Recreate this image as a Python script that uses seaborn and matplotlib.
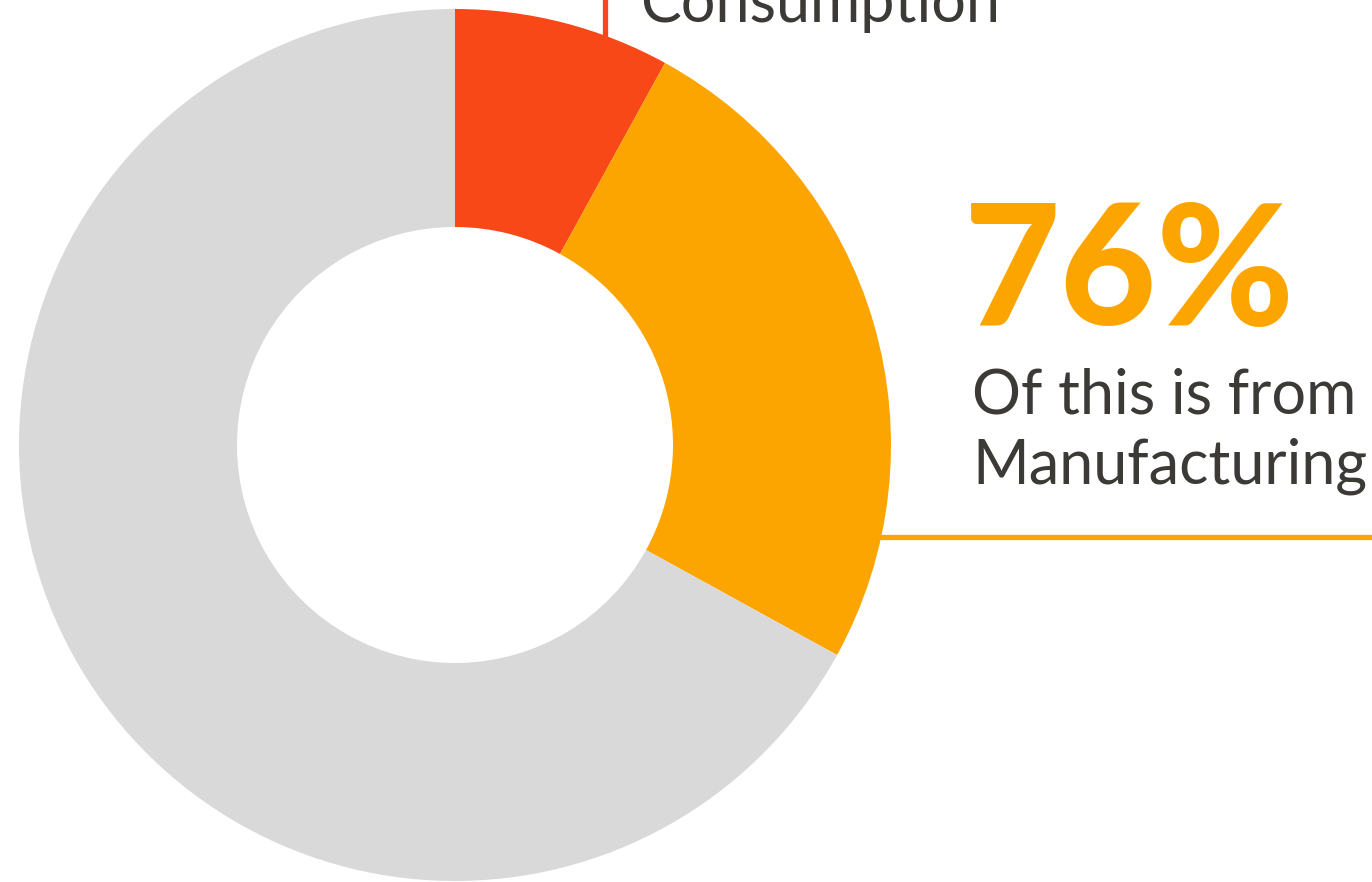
import matplotlib
matplotlib.use("Agg")
import matplotlib.pyplot as plt
import seaborn as sns

sns.set_theme(style="white")
plt.rcParams['font.family'] = ['Lato', 'DejaVu Sans']

categories = ["Manufacturing share (red)", "Manufacturing (orange)", "Other"]
values = [8, 25, 67]
colors = ["#F94817", "#FCA500", "#D9D9D9"]
big_label = "76%"
sub_lines = ["Of this is from", "Manufacturing"]
top_label = "Consumption"

W, H = 1372, 882
fig = plt.figure(figsize=(W / 100, H / 100), dpi=100)
fig.patch.set_facecolor("white")

# donut axes: pixel box x 19..891, y 9..881 (top origin)
ax = fig.add_axes([19 / W, (H - 881) / H, 872 / W, 872 / H])
ax.pie(values, colors=colors, startangle=90, counterclock=False, radius=1,
       wedgeprops=dict(width=0.5, linewidth=0))
ax.set_xlim(-1, 1)
ax.set_ylim(-1, 1)
ax.set_aspect("equal")
ax.axis("off")

def fx(x):
    return x / W

def fy(y):
    return 1 - y / H

# connector lines
fig.add_artist(plt.Line2D([fx(604.5), fx(604.5)], [fy(0), fy(36)], color=colors[0], lw=3.8,
                          transform=fig.transFigure))
fig.add_artist(plt.Line2D([fx(877), fx(1372)], [fy(537), fy(537)], color=colors[1], lw=3.8,
                          transform=fig.transFigure))

txtcol = "#3C3A36"
fig.text(fx(640), fy(22), top_label, fontsize=44, color=txtcol, fontweight="normal",
         va="baseline", ha="left")
fig.text(fx(964), fy(325), big_label, fontsize=120, color=colors[1], fontweight="black",
         va="baseline", ha="left")
fig.text(fx(972), fy(413), sub_lines[0], fontsize=44, color=txtcol, fontweight="normal",
         va="baseline", ha="left")
fig.text(fx(972), fy(483), sub_lines[1], fontsize=44, color=txtcol, fontweight="normal",
         va="baseline", ha="left")

fig.savefig("out.png", dpi=100, facecolor="white")
